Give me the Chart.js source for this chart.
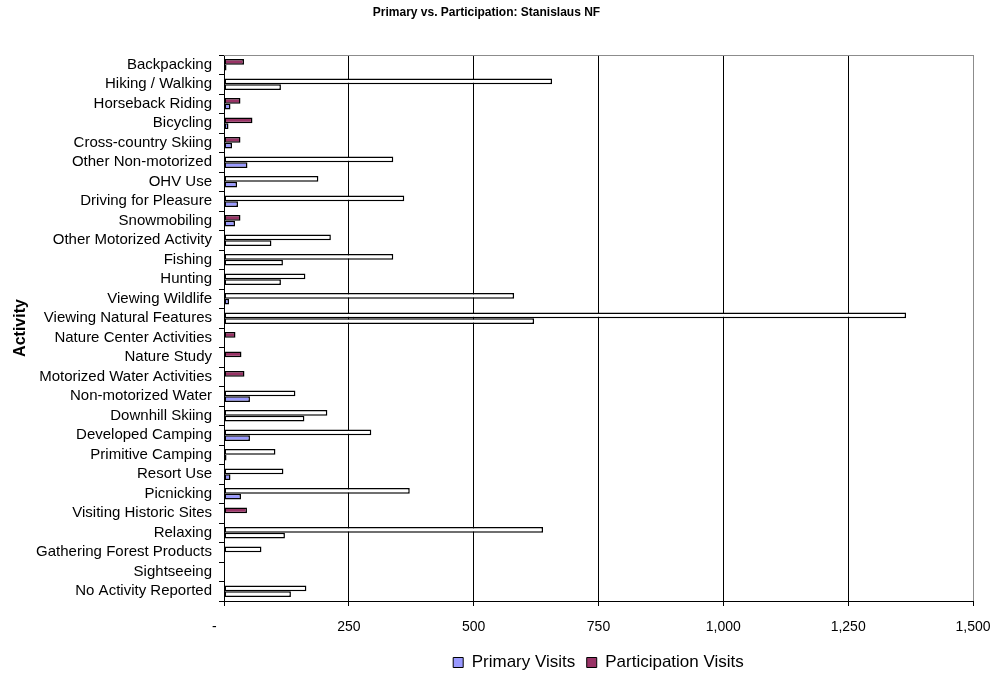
<!DOCTYPE html>
<html lang="en">
<head>
  <meta charset="UTF-8">
  <title>Primary vs. Participation: Stanislaus NF</title>
  <script src="https://cdn.jsdelivr.net/npm/chart.js"></script>
  <style>
    body { margin: 0; background: #fff; }
    canvas { display: block; }
  </style>
</head>
<body>
  <canvas id="visitsChart" width="995" height="675"></canvas>

  <script>
    const activities = [
      'Backpacking', 'Hiking / Walking', 'Horseback Riding', 'Bicycling',
      'Cross-country Skiing', 'Other Non-motorized', 'OHV Use', 'Driving for Pleasure',
      'Snowmobiling', 'Other Motorized Activity', 'Fishing', 'Hunting',
      'Viewing Wildlife', 'Viewing Natural Features', 'Nature Center Activities', 'Nature Study',
      'Motorized Water Activities', 'Non-motorized Water', 'Downhill Skiing', 'Developed Camping',
      'Primitive Camping', 'Resort Use', 'Picnicking', 'Visiting Historic Sites',
      'Relaxing', 'Gathering Forest Products', 'Sightseeing', 'No Activity Reported'
    ];

    const primaryVisits = [
      5, 114, 13, 9, 16, 47, 26, 28,
      22, 95, 118, 114, 10, 621, 0, 0,
      1, 52, 161, 52, 5, 13, 34, 0,
      122, 0, 0, 134
    ];

    const participationVisits = [
      40, 657, 33, 57, 33, 339, 189, 361,
      33, 214, 339, 163, 581, 1366, 23, 35,
      41, 143, 207, 295, 103, 119, 372, 46,
      639, 75, 0, 165
    ];

    const xTicks = [0, 250, 500, 750, 1000, 1250, 1500];

    // big bars come out hollow in the original
    function barFill(color) {
      return ctx => (ctx.raw > 60 ? '#ffffff' : color);
    }

    const plotFrame = {
      id: 'plotFrame',
      beforeDatasetsDraw(chart) {
        const a = chart.chartArea;
        const c = chart.ctx;
        c.save();
        c.strokeStyle = '#8c8c8c';
        c.lineWidth = 1;
        c.beginPath();
        c.moveTo(a.left, a.top + 0.5);
        c.lineTo(a.right + 0.5, a.top + 0.5);
        c.lineTo(a.right + 0.5, a.bottom);
        c.stroke();
        c.restore();
      }
    };

    const arial = "'Liberation Sans', Arial, sans-serif";

    new Chart(document.getElementById('visitsChart'), {
      type: 'bar',
      data: {
        labels: activities,
        datasets: [
          {
            label: 'Participation Visits',
            data: participationVisits,
            backgroundColor: barFill('#993366'),
            borderColor: '#000',
            borderWidth: 1.5,
            borderSkipped: false
          },
          {
            label: 'Primary Visits',
            data: primaryVisits,
            backgroundColor: barFill('#9999ff'),
            borderColor: '#000',
            borderWidth: 1.5,
            borderSkipped: false
          }
        ]
      },
      options: {
        indexAxis: 'y',
        responsive: false,
        animation: false,
        categoryPercentage: 0.59,
        barPercentage: 1.0,
        layout: { padding: { left: 0, right: 22, top: 0, bottom: -6 } },
        plugins: {
          title: {
            display: true,
            text: 'Primary vs. Participation: Stanislaus NF',
            color: '#000',
            font: { family: arial, size: 12, weight: 'bold' },
            padding: { top: 5, bottom: 35.6 }
          },
          legend: {
            position: 'bottom',
            fullSize: false,
            reverse: true,
            labels: {
              color: '#000',
              font: { family: arial, size: 17 },
              boxWidth: 10,
              boxHeight: 10,
              padding: 2,
              generateLabels(chart) {
                const items = Chart.defaults.plugins.legend.labels.generateLabels(chart);
                items.forEach(it => {
                  const ds = chart.data.datasets[it.datasetIndex];
                  it.fillStyle = ds.label === 'Primary Visits' ? '#9999ff' : '#993366';
                  it.strokeStyle = '#000';
                  it.lineWidth = 1;
                  if (ds.label === 'Primary Visits') it.text = it.text + '  ';
                });
                return items;
              }
            }
          },
          tooltip: { enabled: false }
        },
        scales: {
          x: {
            min: 0,
            max: 1500,
            afterBuildTicks: scale => {
              scale.ticks = xTicks.map(v => ({ value: v }));
            },
            afterFit: scale => {
              scale.height = 51;
              scale.paddingLeft = 0;
              scale.paddingRight = 0;
            },
            grid: {
              color: ctx => (ctx.tick && ctx.tick.value === 1500 ? '#8c8c8c' : '#000'),
              tickColor: '#000',
              tickLength: 5,
              lineWidth: 1
            },
            border: { color: '#000', width: 1 },
            ticks: {
              color: '#000',
              padding: 13,
              maxRotation: 0,
              font: { family: arial, size: 14 },
              callback: v => (v === 0 ? '-     ' : v.toLocaleString('en-US'))
            }
          },
          y: {
            afterFit: scale => { scale.width = 224; },
            grid: {
              drawOnChartArea: false,
              color: '#000',
              tickLength: 5,
              offset: true
            },
            border: { color: '#000', width: 1 },
            ticks: {
              color: '#000',
              padding: 7,
              autoSkip: false,
              font: { family: arial, size: 15 }
            },
            title: {
              display: true,
              text: 'Activity',
              color: '#000',
              font: { family: arial, size: 16, weight: 'bold' },
              padding: { top: 11, bottom: 0 }
            }
          }
        }
      },
      plugins: [plotFrame]
    });
  </script>
</body>
</html>
